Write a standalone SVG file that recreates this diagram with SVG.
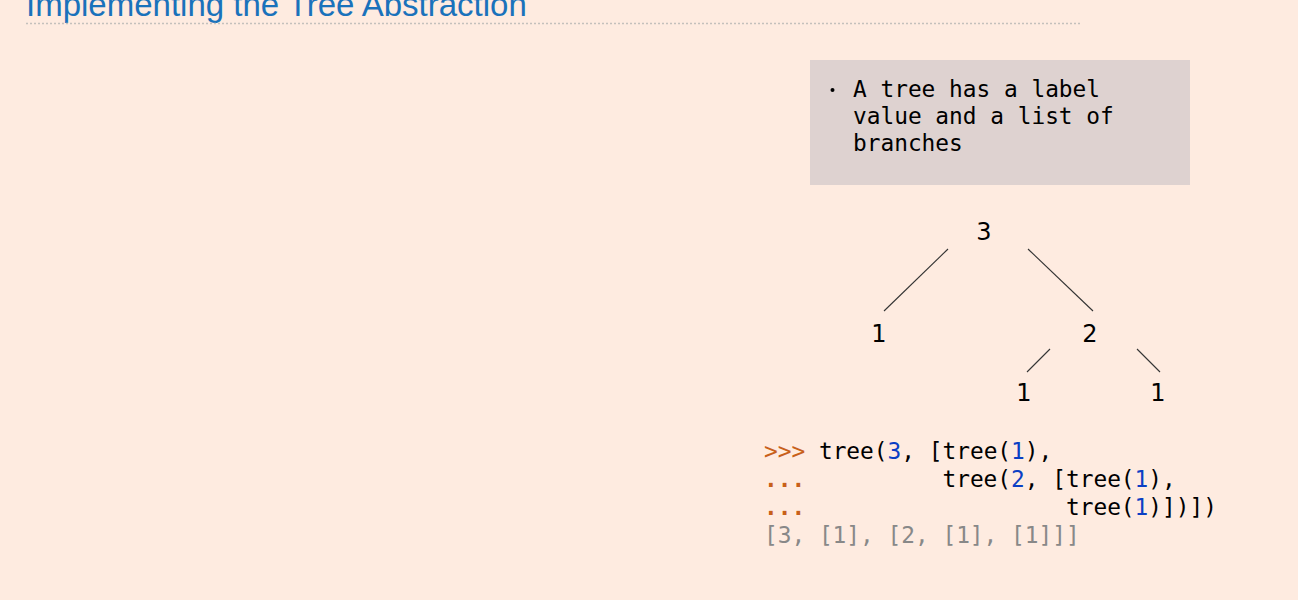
<svg xmlns="http://www.w3.org/2000/svg" width="1298" height="600" viewBox="0 0 1298 600">
<style>
.title{font-family:"Liberation Sans",Arial,sans-serif;font-size:33px;fill:#1a72bb}
.mono{font-family:"DejaVu Sans Mono",monospace;font-size:22.8px;fill:#000}
.num{font-family:"DejaVu Sans",sans-serif;font-size:24px;fill:#000;text-anchor:middle}
.edge{stroke:#333;stroke-width:1.1;fill:none}
.p{fill:#c8601a}
.b{font-weight:bold}
.d{fill:#0b3fc4}
.o{fill:#888}
</style>
<rect width="1298" height="600" fill="#feebe0"/>
<g id="title">
<text class="title" x="26" y="16">Implementing the Tree Abstraction</text>
<line x1="26" y1="23.5" x2="1080" y2="23.5" stroke="#c4c0bc" stroke-width="1.5" stroke-dasharray="2,2"/>
</g>
<g id="note">
<rect x="810" y="60" width="380" height="125" fill="#ded2d0"/>
<circle cx="832.5" cy="90" r="2" fill="#000"/>
<text class="mono" x="853" y="97">A tree has a label</text>
<text class="mono" x="853" y="124">value and a list of</text>
<text class="mono" x="853" y="151">branches</text>
</g>
<g id="connectors">
<line class="edge" x1="948" y1="249" x2="884" y2="311"/>
<line class="edge" x1="1028" y1="249" x2="1093" y2="311"/>
<line class="edge" x1="1050" y1="349" x2="1027" y2="372"/>
<line class="edge" x1="1137" y1="349" x2="1160" y2="372"/>
</g>
<g id="n3"><text class="num" x="984" y="240">3</text></g>
<g id="n1a"><text class="num" x="879" y="342">1</text></g>
<g id="n2"><text class="num" x="1090" y="342">2</text></g>
<g id="n1b"><text class="num" x="1024" y="401">1</text></g>
<g id="n1c"><text class="num" x="1158" y="401">1</text></g>
<g id="code">
<text class="mono" x="764" y="459" xml:space="preserve"><tspan class="p">&gt;&gt;&gt;</tspan> tree(<tspan class="d">3</tspan>, [tree(<tspan class="d">1</tspan>),</text>
<text class="mono" x="764" y="487" xml:space="preserve"><tspan class="p b">...</tspan>          tree(<tspan class="d">2</tspan>, [tree(<tspan class="d">1</tspan>),</text>
<text class="mono" x="764" y="515" xml:space="preserve"><tspan class="p b">...</tspan>                   tree(<tspan class="d">1</tspan>)])])</text>
<text class="mono o" x="764" y="543">[3, [1], [2, [1], [1]]]</text>
</g>
</svg>
